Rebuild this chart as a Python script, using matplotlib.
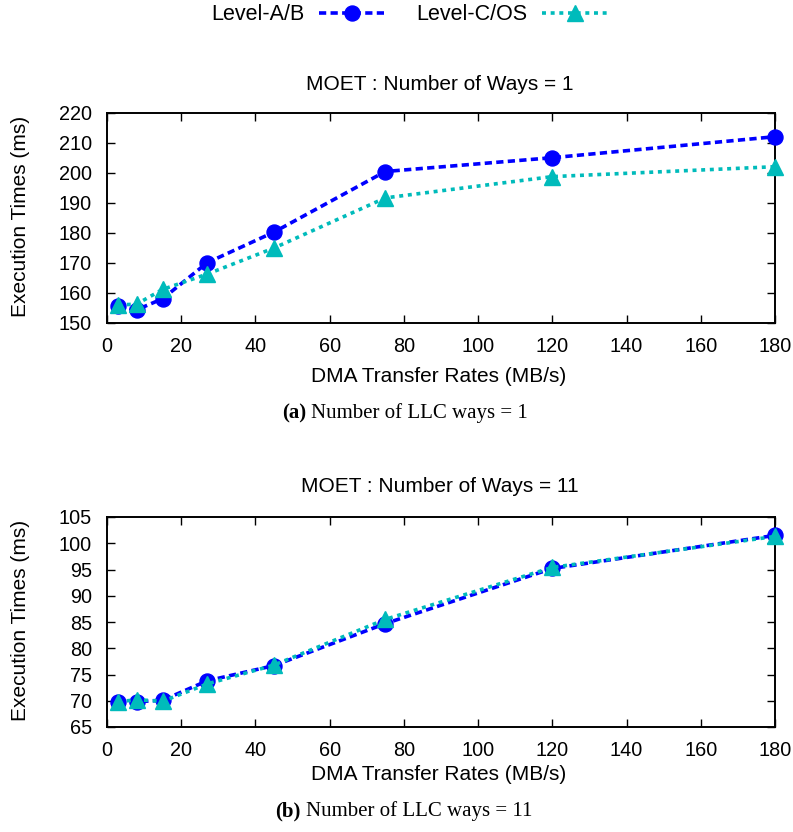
import matplotlib
matplotlib.use("Agg")
import matplotlib.pyplot as plt
from matplotlib.lines import Line2D

plt.rcParams['font.family'] = ['Liberation Sans', 'DejaVu Sans']

rates = [3, 8, 15, 27, 45, 75, 120, 180]
ways1_ab = [155.7, 154.4, 158.1, 170.1, 180.3, 200.5, 205.1, 212.1]
ways1_cos = [156.0, 156.3, 161.2, 166.3, 175.0, 191.7, 198.8, 202.1]
ways11_ab = [69.8, 69.8, 70.1, 73.8, 76.7, 84.7, 95.2, 101.5]
ways11_cos = [69.8, 70.2, 69.9, 73.2, 76.8, 85.5, 95.4, 101.3]

xticks = list(range(0, 181, 20))
W, H = 793, 832
fig = plt.figure(figsize=(W / 100, H / 100), dpi=100)

BLUE = '#0000FF'
CYAN = '#00BBBB'
DASH = (0, (2.0, 1.2))
DOT = (0, (1.1, 1.3))
LW = 2.6
TICK_FS = 14.3
LAB_FS = 15

def fy(px):
    return 1 - px / H

def make_ax(top_px, bottom_px, ab, cos, ylim, yticks, title, cap_lbl, cap_txt,
            xlab_y, cap_y, title_y, cap_x):
    ax = fig.add_axes([107 / W, fy(bottom_px), 668 / W, (bottom_px - top_px) / H])
    ax.plot(rates, ab, color=BLUE, lw=LW, ls=DASH, marker='o', ms=10.8,
            markeredgecolor=BLUE, markerfacecolor=BLUE, zorder=3, clip_on=False)
    ax.plot(rates, cos, color=CYAN, lw=LW, ls=DOT, marker='^', ms=11.5,
            markeredgecolor=CYAN, markerfacecolor=CYAN, zorder=4, clip_on=False)
    ax.set_xlim(0, 180)
    ax.set_ylim(*ylim)
    ax.set_xticks(xticks)
    ax.set_yticks(yticks)
    ax.tick_params(direction='in', length=6, width=1, top=True, right=True, labelsize=TICK_FS)
    ax.tick_params(axis='y', pad=10.8)
    ax.tick_params(axis='x', pad=10)
    for s in ax.spines.values():
        s.set_linewidth(1.4)
    fig.text(21 / W, fy((top_px + bottom_px) / 2 - 2), 'Execution Times (ms)', rotation=90,
             ha='center', va='center', fontsize=LAB_FS)
    fig.text(439 / W, fy(xlab_y), 'DMA Transfer Rates (MB/s)', ha='center', va='center', fontsize=LAB_FS)
    fig.text(440 / W, fy(title_y), title, ha='center', va='center', fontsize=LAB_FS)
    fig.text(cap_x / W, fy(cap_y), cap_lbl, ha='right', va='center', fontsize=15,
             family='Liberation Serif', fontweight='bold')
    fig.text((cap_x + 5) / W, fy(cap_y), cap_txt, ha='left', va='center', fontsize=15,
             family='Liberation Serif')
    return ax

make_ax(113, 323, ways1_ab, ways1_cos, (150, 220), list(range(150, 221, 10)),
        'MOET : Number of Ways = 1', '(a)', 'Number of LLC ways = 1', 377, 413, 84, 306)
make_ax(517, 727, ways11_ab, ways11_cos, (65, 105), list(range(65, 106, 5)),
        'MOET : Number of Ways = 11', '(b)', 'Number of LLC ways = 11', 775, 811, 487, 301)

handles = [
    Line2D([], [], color=BLUE, lw=LW, ls=DASH, marker='o', ms=10.8),
    Line2D([], [], color=CYAN, lw=LW, ls=DOT, marker='^', ms=11.5),
]
fig.legend(handles, ['Level-A/B', 'Level-C/OS'], loc='center', bbox_to_anchor=(409 / W, fy(15)),
           ncol=2, frameon=False, markerfirst=False, fontsize=15.5, handlelength=3.0,
           columnspacing=1.5, handletextpad=0.7, borderpad=0, borderaxespad=0)

fig.savefig('out.png', dpi=100)
